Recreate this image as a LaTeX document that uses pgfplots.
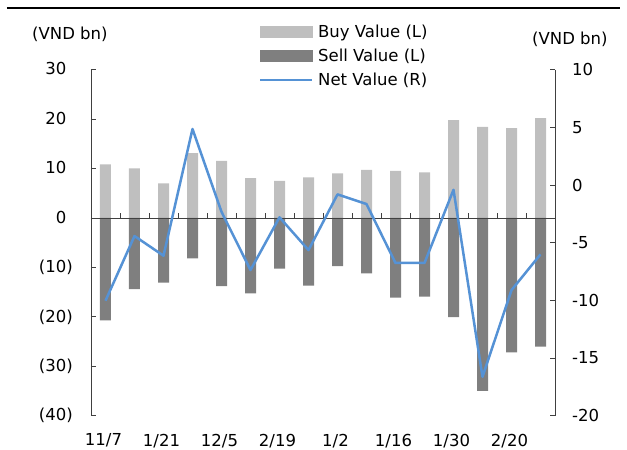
\documentclass[border=0pt]{standalone}
\usepackage{pgfplots}
\pgfplotsset{compat=1.18}
\usepackage{fontspec}
\setmainfont{DejaVu Sans}
\newcommand\ff{\fontsize{16.5pt}{19pt}\selectfont}
\definecolor{buyc}{HTML}{BFBFBF}
\definecolor{sellc}{HTML}{7F7F7F}
\definecolor{netc}{HTML}{5592D5}
\definecolor{axc}{HTML}{404040}
\pgfplotsset{common/.style={scale only axis, width=464pt, height=346pt,
  xmin=-0.5, xmax=15.5, at={(0pt,0pt)}, anchor=south west,
  tick label style={font=\ff, inner sep=0pt},
  major tick length=5pt}}
\begin{document}
\ff
\begin{tikzpicture}
\path[use as bounding box] (-91pt,-34.3pt) rectangle (536pt,415.7pt);
\draw[line width=2.5pt] (-84pt,407.7pt) -- (529pt,407.7pt);
\node[anchor=west, inner sep=0pt] at (-59pt,381.7pt) {(VND bn)};
\node[anchor=west, inner sep=0pt] at (441pt,376.2pt) {(VND bn)};
% left axis with bars
\begin{axis}[common, ymin=-40, ymax=30,
  axis y line*=left, axis x line*=bottom,
  x axis line style={draw=none},
  xtick={0,2,...,14},
  xticklabels={11/7,1/21,12/5,2/19,1/2,1/16,1/30,2/20},
  major x tick style={draw=none},
  ytick={-40,-30,...,30},
  yticklabels={{(40)},{(30)},{(20)},{(10)},{0\phantom{)}},{10\phantom{)}},{20\phantom{)}},{30\phantom{)}}},
  ytick align=inside,
  y axis line style={axc, line width=0.8pt},
  major y tick style={axc, line width=0.8pt},
  yticklabel style={xshift=-18pt},
  xticklabel style={yshift=-18pt, xshift=-2pt}]
\addplot[ybar, bar width=11pt, bar shift=0pt, fill=buyc, draw=none] coordinates {
(0,10.87) (1,10.06) (2,7.02) (3,13.10) (4,11.54) (5,8.04) (6,7.49) (7,8.24)
(8,9.05) (9,9.72) (10,9.51) (11,9.25) (12,19.78) (13,18.42) (14,18.16) (15,20.18)};
\addplot[ybar, bar width=11pt, bar shift=0pt, fill=sellc, draw=none] coordinates {
(0,-20.71) (1,-14.37) (2,-13.10) (3,-8.16) (4,-13.77) (5,-15.24) (6,-10.26) (7,-13.70)
(8,-9.72) (9,-11.19) (10,-16.13) (11,-15.93) (12,-20.04) (13,-34.96) (14,-27.19) (15,-26.05)};
\end{axis}
% zero line with boundary ticks
\begin{axis}[common, ymin=-40, ymax=30,
  axis x line*=middle, axis y line=none,
  xtick={0.5,1.5,...,14.5}, xticklabels={},
  xtick align=center, major tick length=4.5pt,
  x axis line style={axc, line width=0.8pt},
  major x tick style={axc, line width=0.8pt, yshift=2.25pt}]
\end{axis}
% right axis with net line
\begin{axis}[common, ymin=-20, ymax=10,
  axis y line*=right, axis x line=none,
  ytick={-20,-15,...,10},
  yticklabels={{-20},{-15},{-10},{-5},{0},{5},{10}},
  ytick align=inside,
  y axis line style={axc, line width=0.8pt},
  major y tick style={axc, line width=0.8pt},
  yticklabel style={xshift=17pt},
  legend cell align=left,
  legend style={draw=none, fill=none, font=\ff, inner sep=0pt,
    at={(rel axis cs:0.362,1.131)}, anchor=north west,
    row sep=9pt, column sep=5pt, nodes={inner sep=0pt}}]
\addlegendimage{legend image code/.code={\fill[buyc] (0pt,-5.5pt) rectangle (52pt,5.5pt);}}
\addlegendentry{Buy Value (L)}
\addlegendimage{legend image code/.code={\fill[sellc] (0pt,-5.5pt) rectangle (52pt,5.5pt);}}
\addlegendentry{Sell Value (L)}
\addplot[netc, line width=2.5pt, line join=round,
  legend image code/.code={\draw[netc, line width=2pt] (0pt,0pt) -- (52pt,0pt);}] coordinates {
(0,-10.03) (1,-4.42) (2,-6.13) (3,4.86) (4,-2.32) (5,-7.37) (6,-2.80) (7,-5.64)
(8,-0.81) (9,-1.65) (10,-6.76) (11,-6.76) (12,-0.41) (13,-16.63) (14,-9.11) (15,-6.01)};
\addlegendentry{Net Value (R)}
\end{axis}
\end{tikzpicture}
\end{document}
